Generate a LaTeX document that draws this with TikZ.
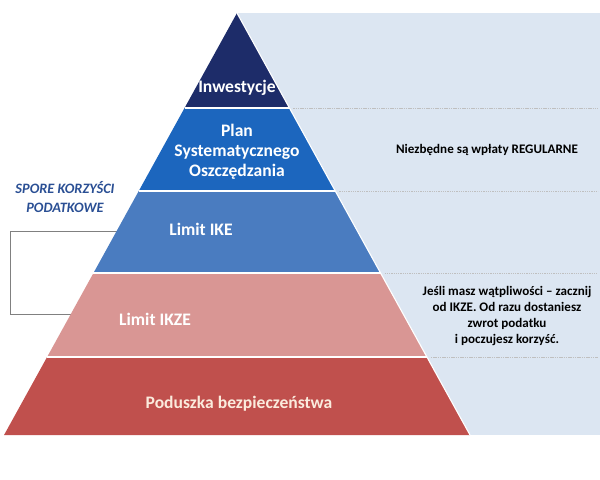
\documentclass[tikz,border=0pt]{standalone}
\usepackage{fontspec}
\setmainfont{Carlito}
\definecolor{fondo}{HTML}{DCE6F2}
\definecolor{granat}{HTML}{1D2C69}
\definecolor{niebieski}{HTML}{1C66BE}
\definecolor{stalowy}{HTML}{4A7CC0}
\definecolor{rozowy}{HTML}{D99694}
\definecolor{czerwony}{HTML}{C0504D}
\definecolor{kremowy}{HTML}{FBEBDD}
\definecolor{napis}{HTML}{2A4F94}
\tikzset{
  warstwa/.style={font=\bfseries\fontsize{12.5}{14.2}\selectfont,text=white,align=center},
  opis/.style={font=\bfseries\fontsize{9.3}{11.3}\selectfont,text=black,align=center},
  kreska/.style={gray!50,dash pattern=on 1pt off 0.6pt,line width=0.6pt}
}
\begin{document}
\begin{tikzpicture}
  [x=0.025cm,y=-0.025cm]
  \useasboundingbox (0,0) rectangle (600,480);

  %fondo
  \fill[fondo] (237,13) rectangle (600,435);

  %corchete
  \coordinate (c1) at (120,231);
  \coordinate (c2) at (120,314);
  \draw[gray,line width=0.6pt] (c1) -- (10,231) -- (10,314) -- (c2);

  %capas de la piramide
  \foreach \ya/\yb/\col in {13/108/granat, 108/191/niebieski, 191/273/stalowy, 273/357/rozowy, 357/435/czerwony}
    \fill[\col] ({237-0.552*(\ya-13)},\ya) -- ({237+0.552*(\ya-13)},\ya)
      -- ({237+0.552*(\yb-13)},\yb) -- ({237-0.552*(\yb-13)},\yb) -- cycle;

  %lineas
  \foreach \y in {108,191,273,357} {
    \draw[kreska] ({237+0.552*(\y-13)+4},\y) -- (598,\y);
    \draw[white,line width=1.2pt] ({237-0.552*(\y-13)},\y) -- ({237+0.552*(\y-13)},\y);
  }
  \draw[white,line width=0.8pt] (237,13) -- (470,435);

  \node[warstwa] (inw) at (237,88) {Inwestycje};
  \node[warstwa] (plan) at (237,152) {Plan\\Systematycznego\\Oszczędzania};
  \node[warstwa] (ike) at (201,229) {Limit IKE};
  \node[warstwa] (ikze) at (155,319) {Limit IKZE};
  \node[warstwa,text=kremowy] (pod) at (239,404) {Poduszka bezpieczeństwa};

  \node[opis] (reg) at (487,150) {Niezbędne są wpłaty REGULARNE};
  \node[opis] (rada) at (507,316) {Jeśli masz wątpliwości – zacznij\\od IKZE. Od razu dostaniesz\\zwrot podatku\\i poczujesz korzyść.};

  \node[font=\bfseries\itshape\fontsize{10.2}{13}\selectfont,text=napis,align=center] (spore) at (65,197) {SPORE KORZYŚCI\\PODATKOWE};
\end{tikzpicture}
\end{document}
